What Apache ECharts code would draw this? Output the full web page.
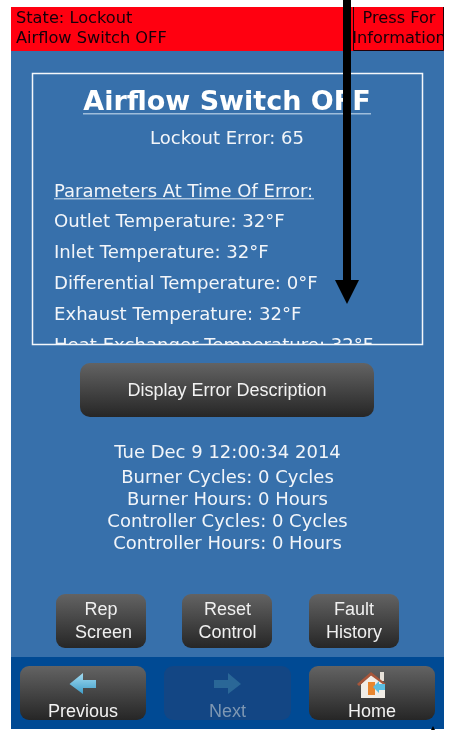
<!DOCTYPE html>
<html>
<head>
<meta charset="utf-8">
<style>
    html, body { margin: 0; padding: 0; background: #fff; }
    #main { width: 449px; height: 730px; }
</style>
<script src="https://cdn.jsdelivr.net/npm/echarts@6/dist/echarts.min.js"></script>
</head>
<body>
<div id="main"></div>
<script>
const stateLines = ['State: Lockout', 'Airflow Switch OFF']
const pressLines = ['Press For', 'Information']
const title = 'Airflow Switch OFF'
const errorLine = 'Lockout Error: 65'
const paramHeader = 'Parameters At Time Of Error:'
const paramLines = [
    'Outlet Temperature: 32°F',
    'Inlet Temperature: 32°F',
    'Differential Temperature: 0°F',
    'Exhaust Temperature: 32°F',
    'Heat Exchanger Temperature: 32°F'
]
const infoLines = [
    'Tue Dec 9 12:00:34 2014',
    'Burner Cycles: 0 Cycles',
    'Burner Hours: 0 Hours',
    'Controller Cycles: 0 Cycles',
    'Controller Hours: 0 Hours'
]
const descButton = 'Display Error Description'
const midButtons = [['Rep', 'Screen'], ['Reset', 'Control'], ['Fault', 'History']]
const navButtons = ['Previous', 'Next', 'Home']

const sans = '"DejaVu Sans"'
const btnFont = '"Liberation Sans"'
const blue = '#3770ab'

function grad (a, b) {
    return { type: 'linear', x: 0, y: 0, x2: 0, y2: 1, colorStops: [{ offset: 0, color: a }, { offset: 1, color: b }] }
}
function rect (x, y, width, height, fill, r) {
    return { type: 'rect', shape: { x, y, width, height, r: r || 0 }, style: { fill } }
}
function text (str, x, y, size, fill, align, extra) {
    return {
        type: 'text',
        x,
        y,
        style: Object.assign({ text: str, fill, font: size + 'px ' + sans, textAlign: align || 'left', textVerticalAlign: 'middle' }, extra || {})
    }
}
function btnText (str, x, y, size, fill) {
    return text(str, x, y, size, fill, 'center', { font: size + 'px ' + btnFont })
}
function poly (points, fill) {
    return { type: 'polygon', shape: { points }, style: { fill } }
}

const els = []
// screen
els.push(rect(11, 7, 433, 722, blue))
els.push(rect(11, 7, 433, 44, '#ff0010'))
els.push(rect(11, 657, 433, 72, '#004a94'))
stateLines.forEach((s, i) => els.push(text(s, 16, 19 + i * 20, 16.2, '#16000a')))
pressLines.forEach((s, i) => els.push(text(s, 399, 19 + i * 20, 16.2, '#16000a', 'center')))
// information text runs off the screen edge
els.push(rect(444, 7, 5, 44, '#ffffff'))
els.push({ type: 'polyline', shape: { points: [[353.5, 7], [353.5, 50.5], [443.5, 50.5], [443.5, 7]] }, style: { fill: 'none', stroke: '#200008', lineWidth: 1 } })

// error box contents
els.push(text(title, 227, 103, 27, '#ffffff', 'center', { font: 'bold 27px ' + sans }))
els.push(rect(83, 113, 288, 1.5, '#9fbddb'))
els.push(text(errorLine, 227, 139, 18, '#f2f5f9', 'center'))
els.push(text(paramHeader, 54, 192, 18, '#f2f5f9'))
els.push(rect(54, 198, 260, 1.5, '#a9c3de'))
paramLines.forEach((s, i) => els.push(text(s, 54, 222 + i * 31, 18.1, '#f2f5f9')))
// hides the part of the last line scrolled out of the box
els.push(rect(20, 345, 415, 14, blue))
els.push({ type: 'rect', shape: { x: 32.5, y: 73.5, width: 390, height: 271 }, style: { fill: 'none', stroke: '#f4f7fb', lineWidth: 1.5 } })

// description button
const dark = grad('#636363', '#262626')
els.push(rect(80, 363, 294, 54, dark, 10))
els.push(btnText(descButton, 227, 391, 18, '#f2f2f2'))

infoLines.forEach((s, i) => els.push(text(s, 227.5, i ? 478 + (i - 1) * 22 : 453, 18, '#f2f5f9', 'center')))

// middle buttons
const midX = [56, 182, 309]
const midNudge = [[0, 2.5], [0.5, 0.5], [0, 0]]
midButtons.forEach((lines, i) => {
    els.push(rect(midX[i], 594, 90, 54, dark, 9))
    lines.forEach((s, k) => els.push(btnText(s, midX[i] + 45 + midNudge[i][k], 610 + k * 23, 18, '#f0f0f0')))
})

// bottom buttons
const navX = [20, 164, 309]
const navW = [126, 127, 126]
navButtons.forEach((s, i) => {
    const off = i === 1
    els.push(rect(navX[i], 666, navW[i], 54, off ? '#134684' : dark, 9))
    els.push(btnText(s, navX[i] + navW[i] / 2, 712, 18, off ? '#7e97b3' : '#f2f2f2'))
})
// previous arrow
const cyan = grad('#a4dcf2', '#3f9ec9')
els.push(poly([[69.5, 684], [83, 673], [83, 680], [96, 680], [96, 688], [83, 688], [83, 694]], cyan))
// next arrow, greyed
els.push(poly([[241, 684], [228, 673], [228, 680], [214, 680], [214, 688], [228, 688], [228, 694]], '#2a6797'))
// home icon
els.push(rect(380, 672, 4, 9, '#e8e2da'))
els.push(poly([[361, 684], [371, 675], [385, 684], [385, 698], [361, 698]], '#f1ede7'))
els.push(poly([[357, 684], [371, 672], [386, 684], [384, 685], [371, 675.5], [359, 686]], '#a8563a'))
els.push(rect(368, 682, 7, 13, '#e8862f'))
els.push(poly([[373, 687], [379, 681], [379, 684], [385, 684], [385, 690], [379, 690], [379, 693]], '#5bbde2'))

// black arrow drawn over the screen
els.push(rect(343, 0, 8, 281, '#000000'))
els.push(poly([[335, 280], [359, 280], [347, 304]], '#000000'))
els.push(poly([[431, 730], [433, 726], [435, 730]], '#000000'))

const chart = echarts.init(document.getElementById('main'), null, { renderer: 'canvas' })
chart.setOption({ animation: false, backgroundColor: '#ffffff', graphic: { elements: els } })
</script>
</body>
</html>
